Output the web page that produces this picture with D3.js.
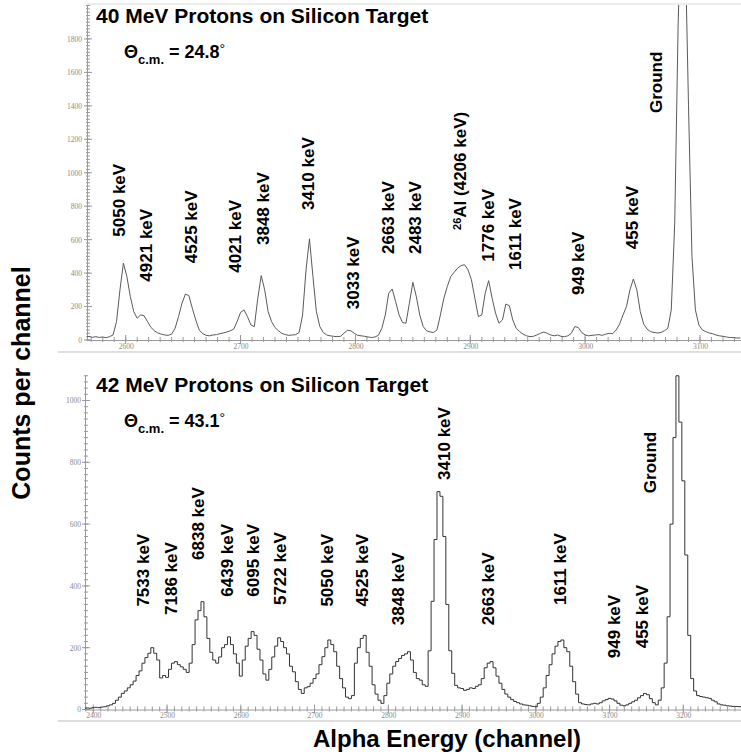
<!DOCTYPE html>
<html>
<head>
<meta charset="utf-8">
<script src="https://cdn.jsdelivr.net/npm/d3@7"></script>
<style>
  body { margin: 0; background: #fff; }
  svg { display: block; font-family: Arial, "Liberation Sans", sans-serif; }
  .axis path, .axis line { stroke: #9a9a9a; }
  .axis text { fill: #8a8a8a; font-size: 7.5px; font-family: "Liberation Serif", serif; }
  .minor { stroke: #9a9a9a; stroke-width: 1; }
  .spectrum { fill: none; stroke-width: 1; stroke-linejoin: round; }
  .peak { font-size: 17px; font-weight: bold; fill: #000; }
  .title { font-size: 21px; font-weight: bold; fill: #000; }
  .angle { font-size: 18px; font-weight: bold; fill: #000; }
  .axis-title { font-size: 24px; font-weight: bold; fill: #000; }
  .frame { stroke: #dedede; stroke-width: 2; }
</style>
</head>
<body>
<svg id="chart" width="741" height="754"></svg>
<script>
// 40 MeV spectrum, counts every 3 channels starting at channel 2565
const topChannels = d3.range(2565, 3136, 3);
const topCounts = [
  18, 22, 16, 20, 15, 18, 14, 20, 30, 110,
  300, 460, 380, 260, 170, 130, 150, 145, 110, 75,
  55, 42, 35, 30, 28, 35, 70, 140, 220, 275,
  265, 190, 120, 60, 38, 28, 25, 30, 32, 38,
  42, 48, 55, 65, 110, 165, 180, 140, 90, 80,
  250, 385, 300, 170, 110, 75, 55, 40, 32, 28,
  30, 32, 45, 150, 420, 605, 380, 170, 80, 45,
  30, 25, 22, 20, 22, 40, 58, 55, 40, 28,
  25, 22, 18, 15, 18, 28, 70, 150, 280, 305,
  230, 150, 105, 100, 220, 345, 260, 150, 80, 55,
  48, 45, 60, 150, 250, 320, 380, 405, 430, 445,
  450, 420, 360, 250, 140, 150, 280, 355, 250, 160,
  100, 120, 215, 205, 120, 70, 50, 35, 25, 20,
  22, 30, 40, 48, 40, 30, 25, 30, 22, 20,
  25, 40, 80, 75, 45, 30, 25, 28, 30, 32,
  28, 35, 40, 38, 60, 95, 150, 200, 300, 365,
  300, 170, 95, 65, 50, 45, 42, 45, 55, 70,
  180, 700, 1900, 2600, 2400, 1400, 500, 180, 90, 60,
  50, 42, 38, 30, 25, 22, 18, 15, 15, 12,
  12
];

// 42 MeV spectrum, counts every 4 channels starting at channel 2388
const bottomChannels = d3.range(2388, 3281, 4);
const bottomCounts = [
  4, 5, 4, 6, 7, 6, 8, 9, 12, 15,
  20, 30, 40, 52, 60, 70, 80, 92, 110, 125,
  150, 168, 182, 200, 182, 160, 102, 110, 104, 130,
  150, 155, 145, 138, 130, 120, 150, 210, 290, 320,
  349, 300, 230, 185, 160, 150, 170, 200, 210, 235,
  210, 180, 150, 108, 160, 205, 230, 252, 240, 195,
  160, 115, 95, 130, 170, 205, 232, 220, 200, 180,
  140, 122, 90, 65, 52, 70, 74, 85, 100, 115,
  145, 171, 200, 225, 210, 187, 140, 100, 70, 40,
  35, 45, 150, 200, 230, 240, 185, 140, 80, 50,
  30, 20, 45, 85, 115, 140, 155, 165, 175, 180,
  187, 160, 120, 100, 95, 80, 75, 190, 350, 550,
  705, 690, 560, 340, 190, 117, 78, 70, 68, 62,
  65, 70, 68, 75, 80, 100, 135, 150, 155, 135,
  108, 85, 65, 50, 40, 32, 26, 22, 18, 15,
  14, 12, 10, 9, 20, 40, 70, 110, 145, 180,
  205, 220, 225, 200, 187, 140, 90, 50, 22, 18,
  16, 15, 18, 20, 18, 22, 28, 32, 36, 34,
  28, 20, 14, 12, 15, 20, 25, 30, 38, 45,
  52, 48, 35, 22, 15, 30, 70, 150, 300, 600,
  880, 1080, 930, 740, 500, 240, 100, 60, 45, 42,
  40, 38, 36, 30, 25, 18, 15, 14, 12, 11,
  10, 10, 9, 8
];

// peak annotations: name, channel, count level of the label's lower end
const topPeakNames = [`5050 keV`, `4921 keV`, `4525 keV`, `4021 keV`, `3848 keV`, `3410 keV`, `3033 keV`,
  `2663 keV`, `2483 keV`, `AL`, `1776 keV`, `1611 keV`, `949 keV`, `455 keV`, `Ground`];
const topPeakChannels = [2594.4, 2617.7, 2656.6, 2695, 2719.8, 2759, 2798, 2828.5, 2851.8, 2892.4, 2915.6, 2938.8, 2993.9, 3040.4, 3062];
const topPeakLevels = [618, 349, 459, 402, 568, 777, 184, 514, 514, 658, 468, 419, 269, 543, 1357];

const bottomPeakNames = [`7533 keV`, `7186 keV`, `6838 keV`, `6439 keV`, `6095 keV`, `5722 keV`, `5050 keV`, `4525 keV`,
  `3848 keV`, `3410 keV`, `2663 keV`, `1611 keV`, `949 keV`, `455 keV`, `Ground`];
const bottomPeakChannels = [2467, 2505.4, 2542.4, 2580.9, 2617, 2653, 2716.5, 2764, 2813.6, 2875.5, 2935.6, 3032.8, 3106.4, 3143.6, 3154.8];
const bottomPeakLevels = [333, 306, 484, 365, 365, 338, 333, 333, 273, 743, 273, 338, 166, 198, 700];

const topXTicks = [2600, 2700, 2800, 2900, 3000, 3100];
const topYTicks = [0, 200, 400, 600, 800, 1000, 1200, 1400, 1600, 1800];
const bottomXTicks = [2400, 2500, 2600, 2700, 2800, 2900, 3000, 3100, 3200];
const bottomYTicks = [0, 200, 400, 600, 800, 1000];

const svg = d3.select(`#chart`);

// light frame lines of the two pasted plots
svg.append(`line`).attr(`class`, `frame`).attr(`x1`, 87).attr(`x2`, 741).attr(`y1`, 4).attr(`y2`, 4).style(`stroke`, `#ececec`);
svg.append(`line`).attr(`class`, `frame`).attr(`x1`, 58).attr(`x2`, 741).attr(`y1`, 352).attr(`y2`, 352);
svg.append(`line`).attr(`class`, `frame`).attr(`x1`, 58).attr(`x2`, 741).attr(`y1`, 721).attr(`y2`, 721);

class Spectrum {
  constructor(opts) {
    Object.assign(this, opts);
    this.x = d3.scaleLinear().domain(this.xDomain).range(this.xRange);
    this.y = d3.scaleLinear().domain(this.yDomain).range(this.yRange);
  }

  render() {
    const g = svg.append(`g`);
    const [x0, x1] = this.xRange;
    const [yb, yt] = this.yRange;

    g.append(`clipPath`).attr(`id`, this.id)
      .append(`rect`).attr(`x`, x0).attr(`y`, yt).attr(`width`, x1 - x0).attr(`height`, yb - yt);

    // minor ticks
    const xMinor = d3.range(Math.ceil(this.xDomain[0] / 10) * 10, this.xDomain[1], 10);
    g.selectAll(`line.xminor`).data(xMinor).join(`line`)
      .attr(`class`, `minor`)
      .attr(`x1`, (d) => this.x(d)).attr(`x2`, (d) => this.x(d))
      .attr(`y1`, yb - 3).attr(`y2`, yb + 2);
    g.selectAll(`line.xmajor`).data(this.xTicks).join(`line`)
      .attr(`class`, `minor`)
      .attr(`x1`, (d) => this.x(d)).attr(`x2`, (d) => this.x(d))
      .attr(`y1`, yb - 5).attr(`y2`, yb + 4);

    const yMinor = d3.range(0, this.yDomain[1], 20);
    g.selectAll(`line.yminor`).data(yMinor).join(`line`)
      .attr(`class`, `minor`)
      .attr(`x1`, x0 - 1).attr(`x2`, x0 + 3)
      .attr(`y1`, (d) => this.y(d)).attr(`y2`, (d) => this.y(d));
    g.selectAll(`line.ymajor`).data(this.yTicks).join(`line`)
      .attr(`class`, `minor`)
      .attr(`x1`, x0 - 3).attr(`x2`, x0 + 5)
      .attr(`y1`, (d) => this.y(d)).attr(`y2`, (d) => this.y(d));

    g.append(`g`).attr(`class`, `axis`)
      .attr(`transform`, `translate(0,${yb})`)
      .call(d3.axisBottom(this.x).tickValues(this.xTicks).tickSize(0).tickPadding(this.xPad)
        .tickSizeOuter(0).tickFormat(d3.format(`d`)))
      .call((a) => a.select(`.domain`).attr(`d`, `M${x0},0.5H${x1}`));

    g.append(`g`).attr(`class`, `axis`)
      .attr(`transform`, `translate(${x0},0)`)
      .call(d3.axisLeft(this.y).tickValues(this.yTicks).tickSize(0).tickPadding(this.yPad).tickFormat(d3.format(`d`)))
      .call((a) => a.select(`.domain`).attr(`d`, `M0.5,${yb}V${yt}`));

    const line = d3.line()
      .x((d) => this.x(d[0]))
      .y((d) => this.y(d[1]))
      .curve(this.curve);

    g.append(`path`)
      .datum(d3.zip(this.channels, this.counts))
      .attr(`class`, `spectrum`)
      .attr(`stroke`, this.color)
      .attr(`clip-path`, `url(#${this.id})`)
      .attr(`d`, line);

    // peak labels, rotated
    this.names.forEach((name, i) => {
      const t = g.append(`text`)
        .attr(`class`, `peak`)
        .attr(`transform`, `translate(${this.x(this.peakChannels[i])},${this.y(this.peakLevels[i])}) rotate(-90)`)
        .attr(`dy`, `0.36em`);
      if (name === `AL`) {
        t.append(`tspan`).attr(`font-size`, 11).attr(`dy`, `-0.05em`).text(`26`);
        t.append(`tspan`).attr(`dy`, `5`).text(`Al (4206 keV)`);
      } else {
        t.text(name);
      }
    });

    svg.append(`text`).attr(`class`, `title`)
      .attr(`x`, 96).attr(`y`, this.titleY)
      .text(this.title);

    const a = svg.append(`text`).attr(`class`, `angle`)
      .attr(`x`, 124).attr(`y`, this.titleY + 35);
    a.append(`tspan`).text(`Θ`);
    a.append(`tspan`).attr(`font-size`, 13).attr(`dy`, 6).text(`c.m.`);
    a.append(`tspan`).attr(`dy`, -6).text(` = ${this.angle}`);
    a.append(`tspan`).attr(`font-size`, 14).attr(`font-weight`, `normal`).attr(`dy`, -4).text(`°`);
  }
}

new Spectrum({
  id: `clipTop`,
  title: `40 MeV Protons on Silicon Target`,
  angle: `24.8`,
  titleY: 23,
  color: `#5a5a5a`,
  curve: d3.curveLinear,
  channels: topChannels,
  counts: topCounts,
  names: topPeakNames,
  peakChannels: topPeakChannels,
  peakLevels: topPeakLevels,
  xTicks: topXTicks,
  yTicks: topYTicks,
  xDomain: [2566.3, 3135.7],
  xRange: [87, 741],
  yDomain: [0, 2003],
  yRange: [340, 5],
  xPad: 4,
  yPad: 5
}).render();

new Spectrum({
  id: `clipBottom`,
  title: `42 MeV Protons on Silicon Target`,
  angle: `43.1`,
  titleY: 392,
  color: `#333`,
  curve: d3.curveStep,
  channels: bottomChannels,
  counts: bottomCounts,
  names: bottomPeakNames,
  peakChannels: bottomPeakChannels,
  peakLevels: bottomPeakLevels,
  xTicks: bottomXTicks,
  yTicks: bottomYTicks,
  xDomain: [2388.75, 3278.2],
  xRange: [85, 741],
  yDomain: [0, 1082.5],
  yRange: [709.5, 375],
  xPad: 3,
  yPad: 4
}).render();

svg.append(`text`).attr(`class`, `axis-title`)
  .attr(`transform`, `translate(30,383) rotate(-90)`)
  .attr(`text-anchor`, `middle`)
  .style(`font-size`, `25px`)
  .text(`Counts per channel`);

svg.append(`text`).attr(`class`, `axis-title`)
  .attr(`x`, 313).attr(`y`, 746.5)
  .text(`Alpha Energy (channel)`);
</script>
</body>
</html>
